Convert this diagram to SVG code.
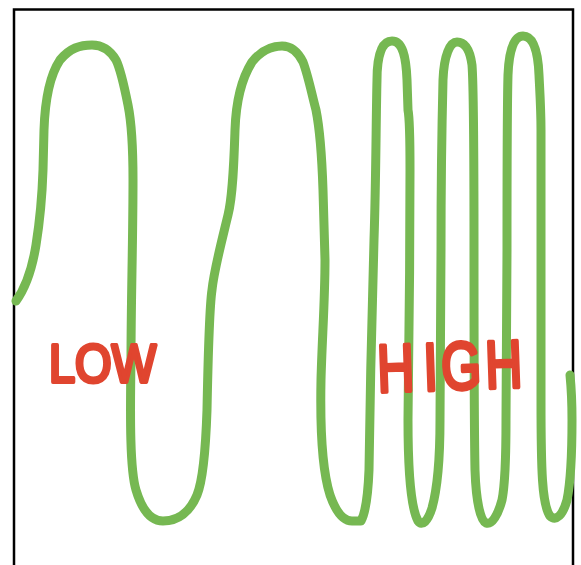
<svg xmlns="http://www.w3.org/2000/svg" width="581" height="565" viewBox="0 0 581 565">
  <style>
    .frame { fill: none; stroke: #000; stroke-width: 2.5; }
    .wave { fill: none; stroke: #76b852; stroke-width: 9; stroke-linecap: round; stroke-linejoin: round; }
    .label { font-family: "Liberation Sans", Arial, sans-serif; font-weight: normal; fill: #e0452f; stroke: #e0452f; stroke-width: 4; stroke-linejoin: round; stroke-linecap: round; }
  </style>
  <rect x="0" y="0" width="581" height="565" fill="#fff"/>
  <g id="frame">
    <path class="frame" d="M14,566 V9.5 H573 V566"/>
  </g>
  <g id="wave">
    <path class="wave" d="M16,301
      C24,290 32,270 36,245
      C40,220 42,200 43,170
      L44,130
      C45,100 50,75 60,60
      C70,48 80,45 92,45
      C103,45 110,50 116,60
      C121,70 125,90 128,105
      C132,125 133,150 133,180
      C133,240 131,300 131,360
      C130,420 130,470 136,490
      C142,510 150,521 163,521
      C178,521 190,512 197,495
      C204,478 206,440 207,410
      C208,360 209,310 212,290
      C214,270 222,240 228,215
      C233,195 234,160 235,130
      C236,100 242,78 252,62
      C260,52 270,46 282,46
      C292,46 298,52 303,62
      C308,75 312,95 316,110
      C320,130 322,160 323,190
      L325,260
      C325,300 322,340 321,380
      C320,430 322,470 330,495
      C336,512 343,521 352,521
      L361,521
      C366,512 368,495 369,470
      C370,400 372,300 374,240
      C376,180 376,120 377,80
      C377,55 382,41 392,41
      C402,41 406,55 407,80
      L408,110
      C410,120 410,140 410,170
      C410,250 409,350 408,420
      C408,480 412,510 418,521
      C422,527 428,521 432,508
      C437,490 440,460 440,420
      L441,250
      C441,180 442,120 443,80
      C444,55 450,42 457,42
      C465,42 470,50 472,65
      C474,90 474,150 474,250
      C474,350 474,420 475,470
      C476,500 480,520 486,523
      C492,525 498,515 502,500
      C505,485 506,460 506,420
      L507,250
      C507,170 507,110 508,75
      C509,50 514,36 523,36
      C533,36 538,50 539,75
      C540,95 541,110 541,130
      C541,200 541,300 541,400
      C541,470 542,505 550,516
      C556,522 563,515 567,500
      C571,480 572,450 572,420
      C572,400 571,385 570,375"/>
  </g>
  <g id="label-low">
    <text class="label" x="49" y="382" font-size="54" textLength="107" lengthAdjust="spacingAndGlyphs">LOW</text>
  </g>
  <g id="label-high" transform="translate(378,392) rotate(-2) scale(0.8,1.05)">
    <text class="label" x="0 58 80 135" y="0" font-size="64">HIGH</text>
  </g>
</svg>
